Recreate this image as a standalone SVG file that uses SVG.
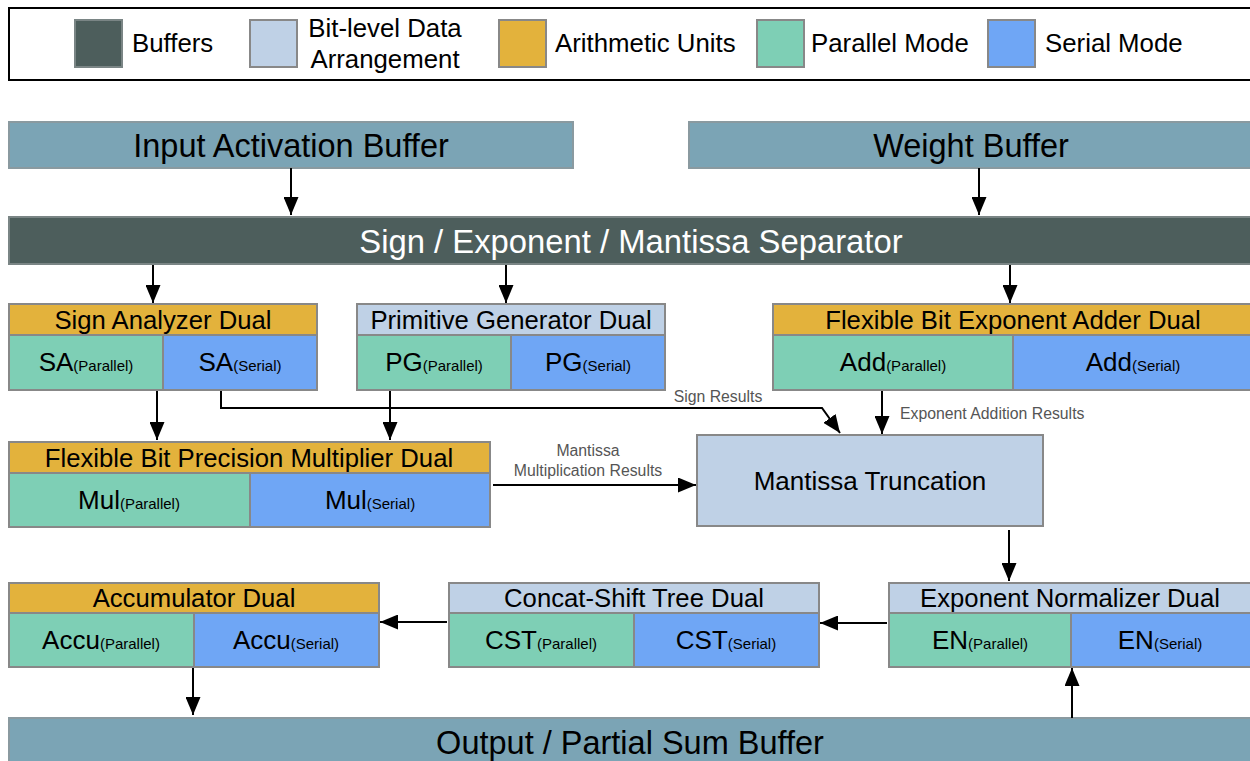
<svg xmlns="http://www.w3.org/2000/svg" width="1250" height="761" viewBox="0 0 1250 761">
<defs>
<style>
text{font-family:"Liberation Sans",Arial,sans-serif;fill:#000}
.buf{fill:#7ba4b5;stroke:#8a9aa0;stroke-width:2}
.sep{fill:#4d5e5c;stroke:#7a8585;stroke-width:2}
.bit{fill:#bfd1e6;stroke:#888;stroke-width:2}
.ari{fill:#e3b23c;stroke:#888;stroke-width:2}
.par{fill:#7ecfb5;stroke:#888;stroke-width:2}
.ser{fill:#6fa6f5;stroke:#888;stroke-width:2}
.hd{font-size:25.7px;text-anchor:middle}
.cell{font-size:26px;text-anchor:middle}
.sub{font-size:15px}
.big{font-size:32.5px;text-anchor:middle}
.lbl{font-size:15.8px;fill:#555}
.lg{font-size:25.8px}
.conn{fill:none;stroke:#000;stroke-width:2;marker-end:url(#ah)}
</style>
<marker id="ah" viewBox="0 0 18 15" refX="18" refY="7.5" markerWidth="9" markerHeight="7.5" markerUnits="strokeWidth" orient="auto"><path d="M0,0 L18,7.5 L0,15 z" fill="#000"/></marker>
</defs>
<rect width="1250" height="761" fill="#fff"/>
<g id="legend">
<rect x="9" y="8" width="1250" height="72" fill="#fff" stroke="#000" stroke-width="2"/>
<rect x="75" y="20" width="47" height="47" class="sep" stroke="#888"/>
<text x="132" y="52" class="lg">Buffers</text>
<rect x="250" y="20" width="47" height="47" class="bit"/>
<text x="385" y="37" class="lg" text-anchor="middle">Bit-level Data</text>
<text x="385" y="68" class="lg" text-anchor="middle">Arrangement</text>
<rect x="499" y="20" width="47" height="47" class="ari"/>
<text x="555" y="52" class="lg">Arithmetic Units</text>
<rect x="757" y="20" width="47" height="47" class="par"/>
<text x="811" y="52" class="lg">Parallel Mode</text>
<rect x="988" y="20" width="47" height="47" class="ser"/>
<text x="1045" y="52" class="lg">Serial Mode</text>
</g>
<g id="input-activation-buffer">
<rect x="9" y="122" width="564" height="46" class="buf"/>
<text x="291" y="157" class="big">Input Activation Buffer</text>
</g>
<g id="weight-buffer">
<rect x="689" y="122" width="570" height="46" class="buf"/>
<text x="971" y="157" class="big">Weight Buffer</text>
</g>
<g id="separator">
<rect x="9" y="217" width="1250" height="47" class="sep"/>
<text x="631" y="253" class="big" style="fill:#fff;font-size:32.8px">Sign / Exponent / Mantissa Separator</text>
</g>
<g id="sign-analyzer">
<rect x="9" y="304" width="308" height="31" class="ari"/>
<text x="163" y="329" class="hd">Sign Analyzer Dual</text>
<rect x="9" y="335" width="154" height="55" class="par"/>
<rect x="163" y="335" width="154" height="55" class="ser"/>
<text x="86" y="371" class="cell">SA<tspan class="sub">(Parallel)</tspan></text>
<text x="240" y="371" class="cell">SA<tspan class="sub">(Serial)</tspan></text>
</g>
<g id="primitive-generator">
<rect x="357" y="304" width="308" height="31" class="bit"/>
<text x="511" y="329" class="hd">Primitive Generator Dual</text>
<rect x="357" y="335" width="154" height="55" class="par"/>
<rect x="511" y="335" width="154" height="55" class="ser"/>
<text x="434" y="371" class="cell">PG<tspan class="sub">(Parallel)</tspan></text>
<text x="588" y="371" class="cell">PG<tspan class="sub">(Serial)</tspan></text>
</g>
<g id="exponent-adder">
<rect x="773" y="304" width="486" height="31" class="ari"/>
<text x="1013" y="329" class="hd">Flexible Bit Exponent Adder Dual</text>
<rect x="773" y="335" width="240" height="55" class="par"/>
<rect x="1013" y="335" width="246" height="55" class="ser"/>
<text x="893" y="371" class="cell">Add<tspan class="sub">(Parallel)</tspan></text>
<text x="1133" y="371" class="cell">Add<tspan class="sub">(Serial)</tspan></text>
</g>
<g id="multiplier">
<rect x="9" y="442" width="481" height="31" class="ari"/>
<text x="249" y="467" class="hd">Flexible Bit Precision Multiplier Dual</text>
<rect x="9" y="473" width="241" height="54" class="par"/>
<rect x="250" y="473" width="240" height="54" class="ser"/>
<text x="129" y="509" class="cell">Mul<tspan class="sub">(Parallel)</tspan></text>
<text x="370" y="509" class="cell">Mul<tspan class="sub">(Serial)</tspan></text>
</g>
<g id="mantissa-truncation">
<rect x="697" y="435" width="346" height="91" class="bit"/>
<text x="870" y="490" class="cell">Mantissa Truncation</text>
</g>
<g id="accumulator">
<rect x="9" y="583" width="370" height="30" class="ari"/>
<text x="194" y="607" class="hd">Accumulator Dual</text>
<rect x="9" y="613" width="185" height="54" class="par"/>
<rect x="194" y="613" width="185" height="54" class="ser"/>
<text x="101" y="649" class="cell">Accu<tspan class="sub">(Parallel)</tspan></text>
<text x="286" y="649" class="cell">Accu<tspan class="sub">(Serial)</tspan></text>
</g>
<g id="concat-shift-tree">
<rect x="449" y="583" width="370" height="30" class="bit"/>
<text x="634" y="607" class="hd">Concat-Shift Tree Dual</text>
<rect x="449" y="613" width="185" height="54" class="par"/>
<rect x="634" y="613" width="185" height="54" class="ser"/>
<text x="541" y="649" class="cell">CST<tspan class="sub">(Parallel)</tspan></text>
<text x="726" y="649" class="cell">CST<tspan class="sub">(Serial)</tspan></text>
</g>
<g id="exponent-normalizer">
<rect x="889" y="583" width="370" height="30" class="bit"/>
<text x="1070" y="607" class="hd">Exponent Normalizer Dual</text>
<rect x="889" y="613" width="182" height="54" class="par"/>
<rect x="1071" y="613" width="188" height="54" class="ser"/>
<text x="980" y="649" class="cell">EN<tspan class="sub">(Parallel)</tspan></text>
<text x="1160" y="649" class="cell">EN<tspan class="sub">(Serial)</tspan></text>
</g>
<g id="output-buffer">
<rect x="9" y="718" width="1250" height="55" class="buf"/>
<text x="630" y="754" class="big">Output / Partial Sum Buffer</text>
</g>
<g id="connectors">
<path d="M291,168 V215" class="conn"/>
<path d="M979,168 V215" class="conn"/>
<path d="M153,265 V303" class="conn"/>
<path d="M506,265 V303" class="conn"/>
<path d="M1010,265 V303" class="conn"/>
<path d="M157,391 V440" class="conn"/>
<path d="M390,391 V440" class="conn"/>
<path d="M221,391 V408 H822 L840,433" class="conn"/>
<path d="M882,391 V434" class="conn"/>
<path d="M493,485 H696" class="conn"/>
<path d="M1009,530 V581" class="conn"/>
<path d="M887,623 H820" class="conn"/>
<path d="M447,622 H380" class="conn"/>
<path d="M193,668 V715" class="conn"/>
<path d="M1072,718 V668" class="conn"/>
<text x="718" y="402" class="lbl" text-anchor="middle">Sign Results</text>
<text x="900" y="419" class="lbl">Exponent Addition Results</text>
<text x="588" y="456" class="lbl" text-anchor="middle">Mantissa</text>
<text x="588" y="476" class="lbl" text-anchor="middle">Multiplication Results</text>
</g>
</svg>
